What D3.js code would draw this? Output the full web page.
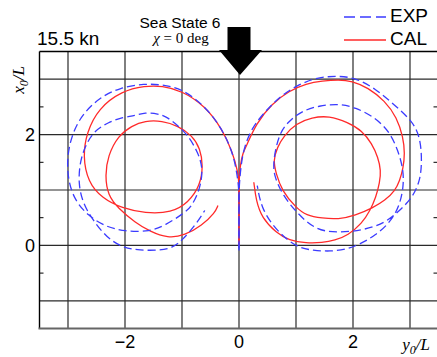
<!DOCTYPE html>
<html><head><meta charset="utf-8">
<script src="https://cdn.jsdelivr.net/npm/d3@7"></script>
<style>body{margin:0;background:#fff;overflow:hidden}</style>
</head><body>
<svg id="c" width="437" height="357"></svg>
<script>
// ---- data (y0/L, x0/L) ----
const xTickVals=[-2,0,2];
const xTickLabels=["\u22122","0","2"];
const yTickVals=[0,2];
const yTickLabels=["0","2"];
const gridY0=[-3,-2,-1,0,1,2,3];
const gridX0=[-1,0,1,2,3];
const minorX0=[-0.5,0.5,1.5,2.5];
const seriesNames=["EXP","CAL"];

const calStbd=[[0,0],[0,0.63],[0,1.17],[0.02,1.44],[0.07,1.68],[0.12,1.77],[0.30,2.20],[0.58,2.56],[0.88,2.79],[1.18,2.92],[1.46,2.97],[1.75,2.99],[1.98,2.97],[2.26,2.85],[2.56,2.61],[2.77,2.31],[2.88,1.95],[2.91,1.66],[2.88,1.39],[2.82,1.17],[2.74,0.99],[2.56,0.81],[2.35,0.68],[2.04,0.54],[1.74,0.47],[1.46,0.49],[1.18,0.54],[1.00,0.68],[0.75,0.99],[0.65,1.30],[0.60,1.53],[0.67,1.77],[0.79,1.98],[1.00,2.20],[1.28,2.31],[1.58,2.34],[1.91,2.22],[2.16,2.07],[2.33,1.84],[2.44,1.59],[2.49,1.35],[2.47,1.14],[2.40,0.86],[2.30,0.63],[2.16,0.40],[1.91,0.18],[1.68,0.09],[1.46,0.05],[1.18,0.04],[0.88,0.09],[0.65,0.23],[0.40,0.50],[0.30,0.81],[0.26,1.14]];

const expStbd=[[0,-0.05],[0,0.63],[0,1.08],[0.04,1.48],[0.09,1.77],[0.23,2.13],[0.47,2.43],[0.70,2.67],[1.00,2.88],[1.35,3.03],[1.70,3.06],[2.04,3.03],[2.39,2.83],[2.70,2.56],[3.04,2.25],[3.18,1.95],[3.21,1.53],[3.18,1.17],[3.04,0.86],[2.82,0.63],[2.56,0.40],[2.16,0.27],[1.74,0.23],[1.35,0.27],[1.02,0.58],[0.77,0.90],[0.61,1.26],[0.60,1.53],[0.70,2.02],[0.88,2.25],[1.11,2.43],[1.40,2.52],[1.75,2.56],[2.04,2.49],[2.39,2.31],[2.65,2.04],[2.79,1.71],[2.88,1.39],[2.89,1.08],[2.82,0.72],[2.65,0.41],[2.39,0.18],[2.12,0.02],[1.89,-0.07],[1.60,-0.11],[1.30,-0.09],[1.02,-0.04],[0.70,0.22],[0.40,0.63],[0.32,1.08]];

const calPort=[[0,0],[0,0.63],[0,1.17],[-0.02,1.32],[-0.11,1.68],[-0.30,2.11],[-0.60,2.52],[-1.00,2.79],[-1.35,2.88],[-1.65,2.88],[-2.05,2.79],[-2.47,2.47],[-2.67,2.04],[-2.74,1.62],[-2.65,1.14],[-2.40,0.85],[-2.05,0.67],[-1.65,0.58],[-1.18,0.59],[-0.89,0.77],[-0.68,1.08],[-0.63,1.44],[-0.68,1.75],[-0.82,1.98],[-1.07,2.16],[-1.35,2.25],[-1.65,2.25],[-1.88,2.16],[-2.12,1.98],[-2.30,1.62],[-2.35,1.26],[-2.30,0.90],[-2.12,0.67],[-1.82,0.41],[-1.56,0.25],[-1.25,0.13],[-0.95,0.18],[-0.65,0.36],[-0.42,0.59],[-0.37,0.72]];

const expPort=[[0,-0.09],[0,0.63],[0,1.03],[-0.04,1.32],[-0.11,1.68],[-0.30,2.11],[-0.60,2.52],[-1.00,2.83],[-1.35,2.90],[-1.65,2.92],[-2.09,2.85],[-2.44,2.67],[-2.72,2.40],[-2.91,2.07],[-3.02,1.62],[-3.00,1.17],[-2.88,0.81],[-2.65,0.54],[-2.35,0.34],[-2.00,0.25],[-1.56,0.25],[-1.30,0.36],[-0.95,0.59],[-0.82,0.72],[-0.68,1.03],[-0.63,1.39],[-0.72,1.68],[-0.89,1.98],[-1.07,2.16],[-1.25,2.31],[-1.42,2.38],[-1.65,2.40],[-1.82,2.34],[-2.05,2.31],[-2.30,2.22],[-2.53,2.07],[-2.67,1.86],[-2.79,1.53],[-2.82,1.12],[-2.74,0.76],[-2.56,0.45],[-2.32,0.14],[-2.04,-0.04],[-1.74,-0.09],[-1.39,-0.09],[-1.16,-0.04],[-1.00,0.09],[-0.77,0.36],[-0.60,0.63]];

// ---- drawing ----
const svg=d3.select("#c");
const x=d3.scaleLinear().domain([-3.5,3.5]).range([39.5,438.5]);
const y=d3.scaleLinear().domain([-1.5,3.5]).range([328.5,51.5]);
const RED="#ff2a2a", BLUE="#3b3bff";

const g=svg.append("g");
// grid
g.selectAll(".gv").data(gridY0).enter().append("line")
  .attr("x1",d=>x(d)).attr("x2",d=>x(d)).attr("y1",y(3.5)).attr("y2",y(-1.5))
  .attr("stroke","#2a2a2a").attr("stroke-width",1.2);
g.selectAll(".gh").data(gridX0).enter().append("line")
  .attr("x1",x(-3.5)).attr("x2",x(3.5)).attr("y1",d=>y(d)).attr("y2",d=>y(d))
  .attr("stroke","#2a2a2a").attr("stroke-width",1.2);
// frame
g.append("line").attr("x1",x(-3.5)).attr("x2",x(-3.5)).attr("y1",y(3.5)).attr("y2",y(-1.5)).attr("stroke","#000").attr("stroke-width",1.4);
g.append("line").attr("x1",x(-3.5)).attr("x2",x(3.5)).attr("y1",y(3.5)).attr("y2",y(3.5)).attr("stroke","#000").attr("stroke-width",1.4);
g.append("line").attr("x1",x(-3.5)-1).attr("x2",x(3.5)).attr("y1",y(-1.5)).attr("y2",y(-1.5)).attr("stroke","#666").attr("stroke-width",2);
// minor ticks left/right
g.selectAll(".ml").data(minorX0).enter().append("line")
  .attr("x1",x(-3.5)).attr("x2",x(-3.5)+4).attr("y1",d=>y(d)).attr("y2",d=>y(d)).attr("stroke","#000");
g.selectAll(".mr").data(minorX0).enter().append("line")
  .attr("x1",x(3.5)-5).attr("x2",x(3.5)-1.5).attr("y1",d=>y(d)).attr("y2",d=>y(d)).attr("stroke","#000");

// tick labels
const fontSans="Arial, 'Liberation Sans', sans-serif";
svg.selectAll(".xt").data(xTickVals).enter().append("text")
  .attr("x",d=>x(d)).attr("y",348).attr("text-anchor","middle")
  .attr("font-family",fontSans).attr("font-size",18).text((d,i)=>xTickLabels[i]);
svg.selectAll(".yt").data(yTickVals).enter().append("text")
  .attr("x",35).attr("y",d=>y(d)+6.5).attr("text-anchor","end")
  .attr("font-family",fontSans).attr("font-size",18).text((d,i)=>yTickLabels[i]);

// axis titles
const serif="'Times New Roman','Liberation Serif',serif";
const yl=svg.append("text").attr("transform","translate(24,80) rotate(-90)").attr("text-anchor","middle")
  .attr("font-family",serif).attr("font-size",17).attr("font-style","italic");
yl.append("tspan").text("x");
yl.append("tspan").attr("font-size",12).attr("dy",4).text("0");
yl.append("tspan").attr("dy",-4).text("/L");
const xl=svg.append("text").attr("x",416).attr("y",350).attr("text-anchor","middle")
  .attr("font-family",serif).attr("font-size",17).attr("font-style","italic");
xl.append("tspan").text("y");
xl.append("tspan").attr("font-size",12).attr("dy",4).text("0");
xl.append("tspan").attr("dy",-4).text("/L");

// title texts
svg.append("text").attr("x",37).attr("y",45).attr("font-family",fontSans).attr("font-size",19).text("15.5 kn");
svg.append("text").attr("x",180).attr("y",28).attr("text-anchor","middle").attr("font-family",fontSans).attr("font-size",15.5).text("Sea State 6");
const chi=svg.append("text").attr("x",181).attr("y",43).attr("text-anchor","middle").attr("font-family",serif).attr("font-size",15);
chi.append("tspan").attr("font-style","italic").text("\u03C7");
chi.append("tspan").text(" = 0 deg");

// wave direction arrow
const ax=x(0);
svg.append("path").attr("d",`M${ax-11.5},27 H${ax+11.5} V50 H${ax+23} L${ax+1},75 L${ax-20},50 H${ax-11.5} Z`).attr("fill","#000");

// trajectories
const line=d3.line().x(d=>x(d[0])).y(d=>y(d[1])).curve(d3.curveBasis);
[calStbd,calPort].forEach(s=>g.append("path").attr("d",line(s)).attr("fill","none").attr("stroke",RED).attr("stroke-width",1.3));
[expStbd,expPort].forEach(s=>g.append("path").attr("d",line(s)).attr("fill","none").attr("stroke",BLUE).attr("stroke-width",1.3).attr("stroke-dasharray","8,4"));

// legend
const lg=svg.append("g");
lg.append("line").attr("x1",344).attr("x2",386).attr("y1",17).attr("y2",17).attr("stroke",BLUE).attr("stroke-width",1.4).attr("stroke-dasharray","11,5");
lg.append("line").attr("x1",344).attr("x2",386).attr("y1",40).attr("y2",40).attr("stroke",RED).attr("stroke-width",1.4);
lg.append("text").attr("x",390).attr("y",22).attr("font-family",fontSans).attr("font-size",19).text(seriesNames[0]);
lg.append("text").attr("x",390).attr("y",45).attr("font-family",fontSans).attr("font-size",19).text(seriesNames[1]);
</script>
</body></html>
